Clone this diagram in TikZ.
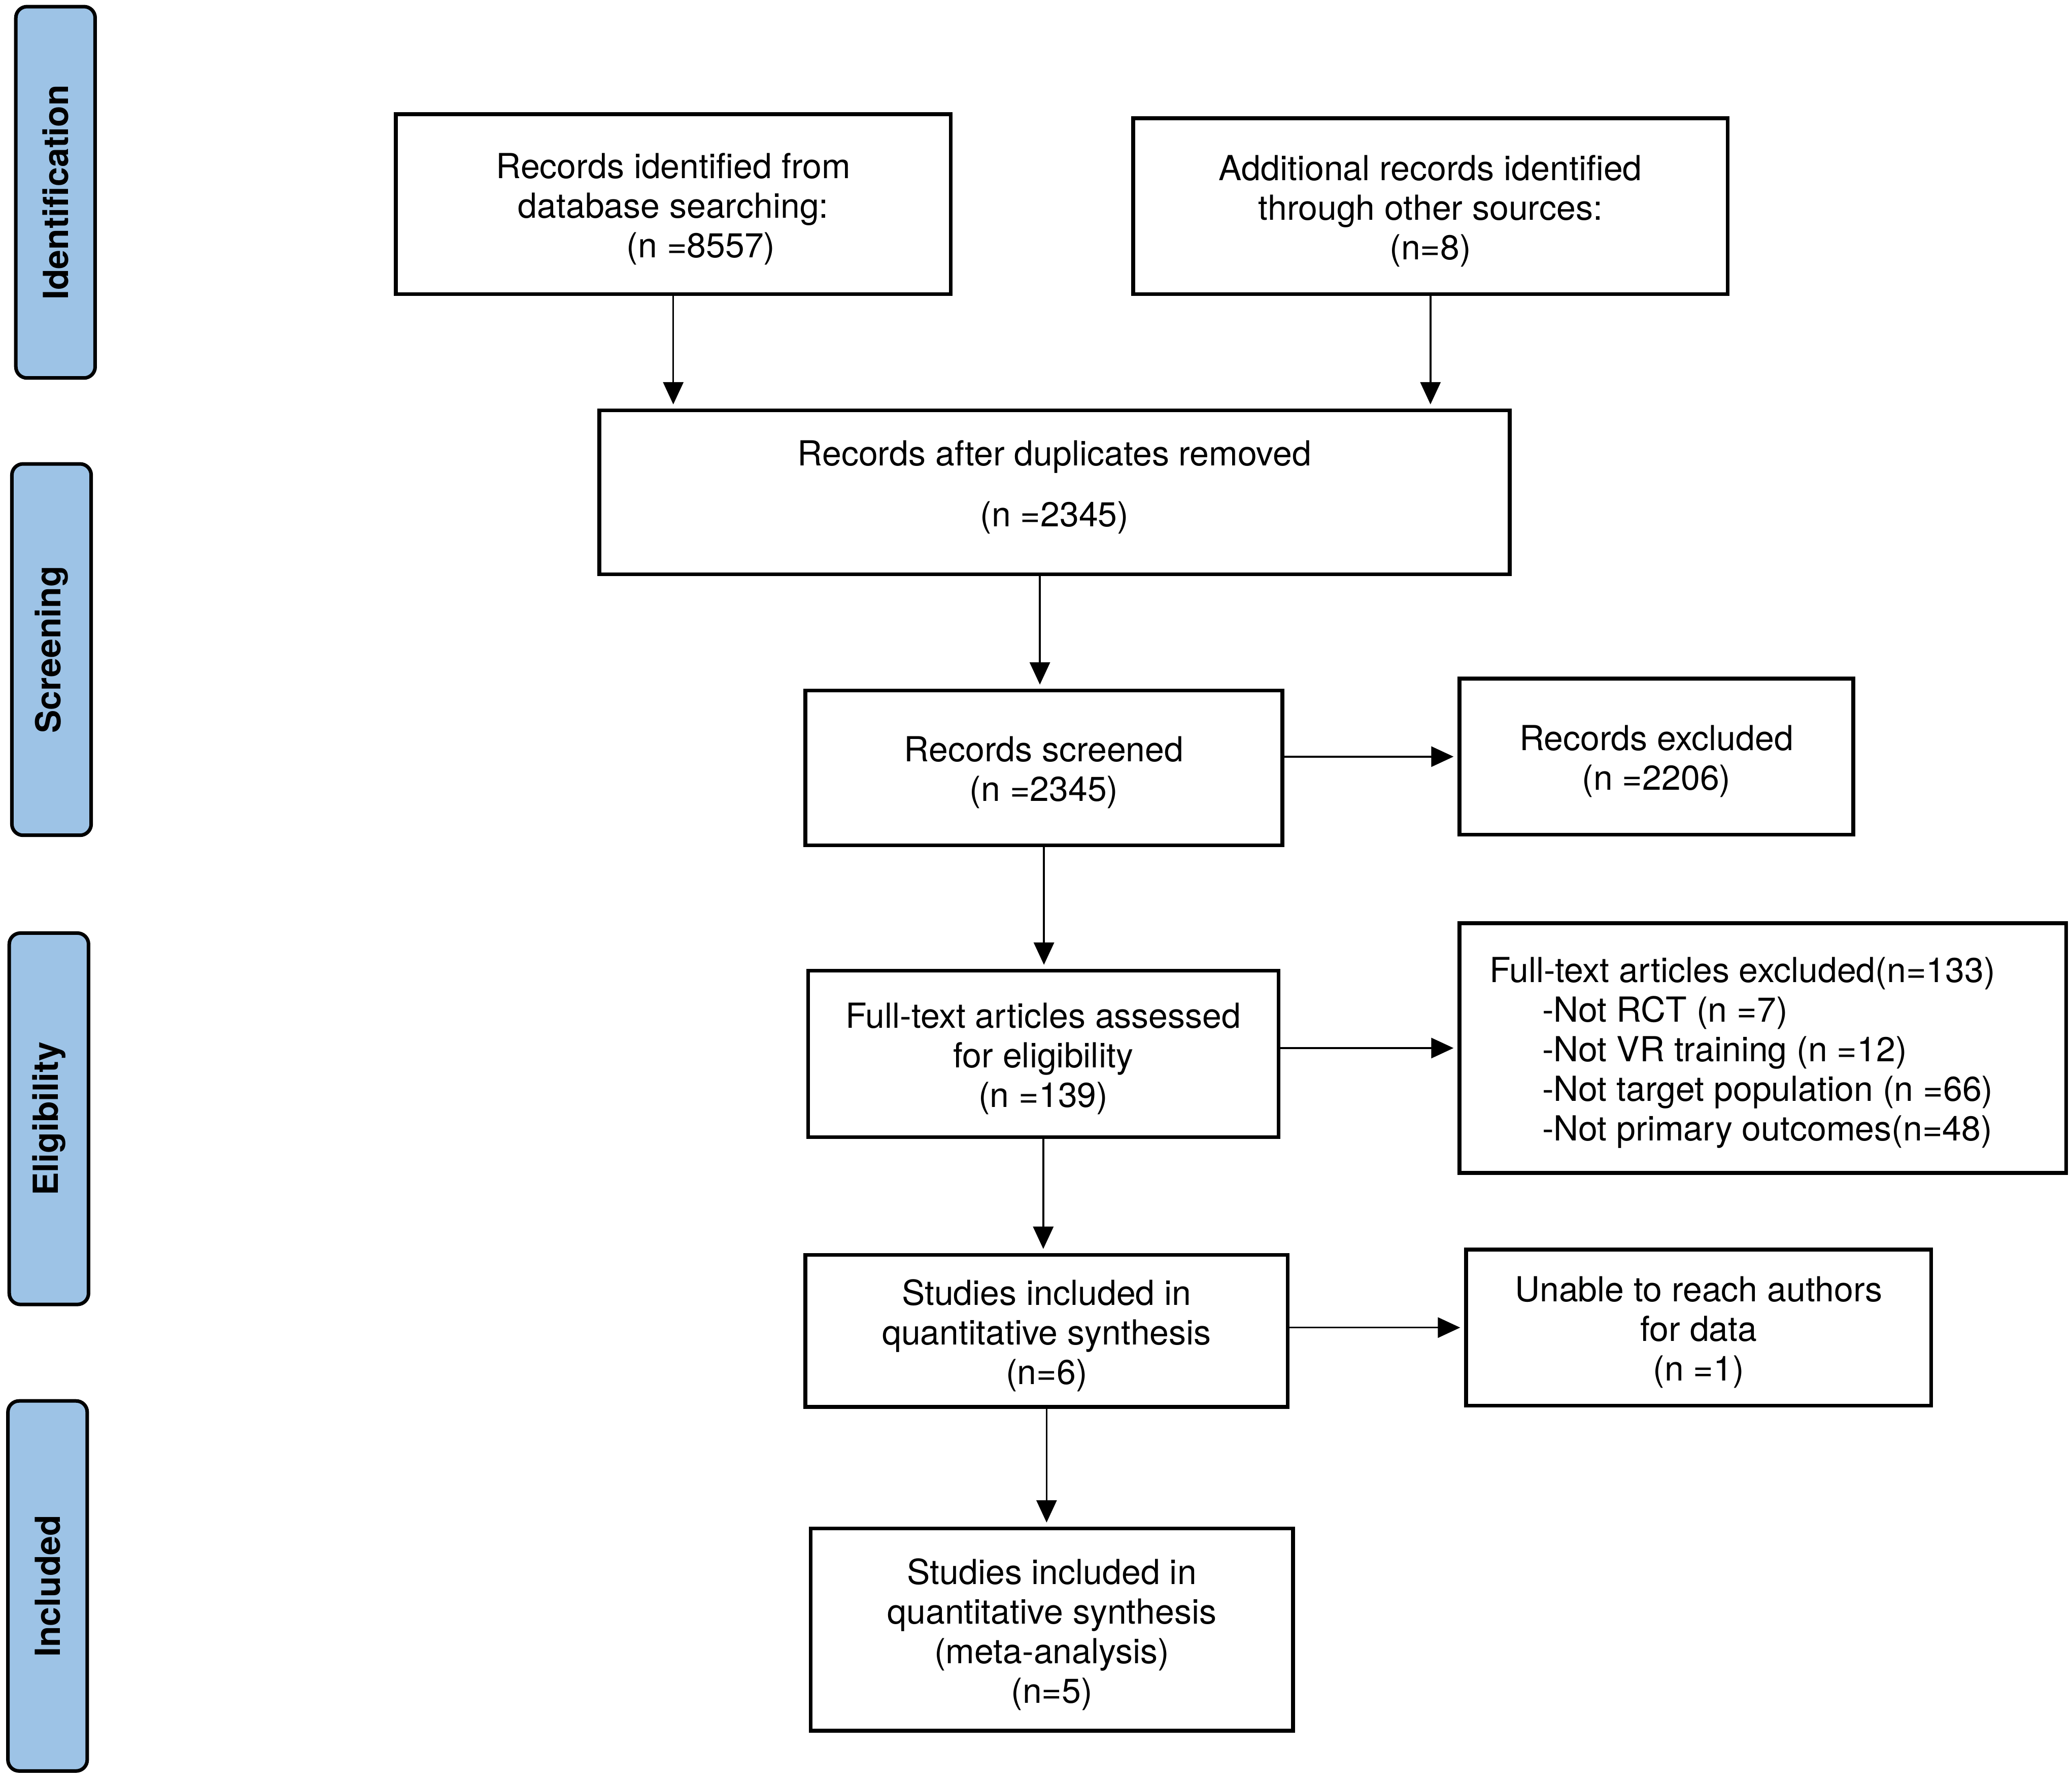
\documentclass[tikz,border=0pt]{standalone}
\usepackage{fontspec}
\setmainfont{TeX Gyre Heros}
\usetikzlibrary{arrows.meta}
\definecolor{sideblue}{RGB}{157,195,230}
\tikzset{
  box/.style={draw=black, line width=7.5pt, fill=white, inner sep=0pt},
  txt/.style={align=center, inner sep=0pt, font=\fontsize{68}{78}\selectfont},
  side/.style={draw=black, line width=7pt, fill=sideblue, rounded corners=22pt, rotate=90,
    inner sep=0pt, font=\fontsize{68}{78}\selectfont\bfseries},
  arr/.style={draw=black, line width=3.5pt, -{Triangle[length=44pt,width=40pt]}, shorten >=8pt}
}
\begin{document}
\begin{tikzpicture}[x=2.604pt,y=-2.604pt]
\useasboundingbox (0,0) rectangle (1568,1349);
% side labels
\node[side, minimum width=281*2.604pt, minimum height=60*2.604pt] (s1) at (42,145.5) {Identification};
\node[side, minimum width=281*2.604pt, minimum height=60*2.604pt] (s2) at (39,491.5) {Screening};
\node[side, minimum width=281*2.604pt, minimum height=60*2.604pt] (s3) at (37,846.5) {Eligibility};
\node[side, minimum width=280*2.604pt, minimum height=60*2.604pt] (s4) at (36,1200) {Included};
% boxes
\node[box, minimum width=420*2.604pt, minimum height=136*2.604pt] (b1) at (509.5,154.5) {};
\node[txt] (t1) at ([yshift=-9.5pt]b1.center)
  {Records identified from\\database searching:\\\hspace*{109pt}(n =8557)};
\node[box, minimum width=450*2.604pt, minimum height=133*2.604pt] (b2) at (1082.5,156) {};
\node[txt] (t2) at ([yshift=-9.5pt]b2.center)
  {Additional records identified\\through other sources:\\(n=8)};
\node[box, minimum width=689*2.604pt, minimum height=124*2.604pt] (b3) at (798,372.5) {};
\node[txt] (t3) at ([yshift=10pt]b3.center)
  {Records after duplicates removed\\[42pt](n =2345)};
\node[box, minimum width=361*2.604pt, minimum height=117*2.604pt] (b4) at (790,581) {};
\node[txt] (t4) at ([yshift=-9.5pt]b4.center) {Records screened\\(n =2345)};
\node[box, minimum width=298*2.604pt, minimum height=118*2.604pt] (b5) at (1253.5,572.5) {};
\node[txt] (t5) at ([yshift=-9.5pt]b5.center) {Records excluded\\(n =2206)};
\node[box, minimum width=356*2.604pt, minimum height=126*2.604pt] (b6) at (789.5,797.5) {};
\node[txt] (t6) at ([yshift=-9.5pt]b6.center)
  {Full-text articles assessed\\for eligibility\\(n =139)};
\node[box, minimum width=459*2.604pt, minimum height=189*2.604pt] (b7) at (1334,793) {};
\node[txt, align=left, anchor=west] (t7) at ([xshift=62.5pt,yshift=-9.5pt]b7.west)
  {Full-text articles excluded(n=133)\\
   \hspace*{104pt}-Not RCT (n =7)\\
   \hspace*{104pt}-Not VR training (n =12)\\
   \hspace*{104pt}-Not target population (n =66)\\
   \hspace*{104pt}-Not primary outcomes(n=48)};
\node[box, minimum width=365*2.604pt, minimum height=115*2.604pt] (b8) at (792,1007) {};
\node[txt] (t8) at ([yshift=-9.5pt]b8.center)
  {Studies included in\\quantitative synthesis\\(n=6)};
\node[box, minimum width=352*2.604pt, minimum height=118*2.604pt] (b9) at (1285.5,1004.5) {};
\node[txt] (t9) at ([yshift=-9.5pt]b9.center)
  {Unable to reach authors\\for data\\(n =1)};
\node[box, minimum width=365*2.604pt, minimum height=153*2.604pt] (b10) at (796,1233) {};
\node[txt] (t10) at ([yshift=-9.5pt]b10.center)
  {Studies included in\\quantitative synthesis\\(meta-analysis)\\(n=5)};
% connectors
\draw[arr] (b1.south) -- (b1.south |- b3.north);
\draw[arr] (b2.south) -- (b2.south |- b3.north);
\draw[arr] ([xshift=-8pt]b4.north |- b3.south) -- ([xshift=-8pt]b4.north);
\draw[arr] (b4.east |- b5.west) -- (b5.west);
\draw[arr] (b4.south) -- (b4.south |- b6.north);
\draw[arr] (b6.east |- b7.west) -- (b7.west);
\draw[arr] (b6.south) -- (b6.south |- b8.north);
\draw[arr] (b8.east |- b9.west) -- (b9.west);
\draw[arr] (b8.south) -- (b8.south |- b10.north);
\end{tikzpicture}
\end{document}
